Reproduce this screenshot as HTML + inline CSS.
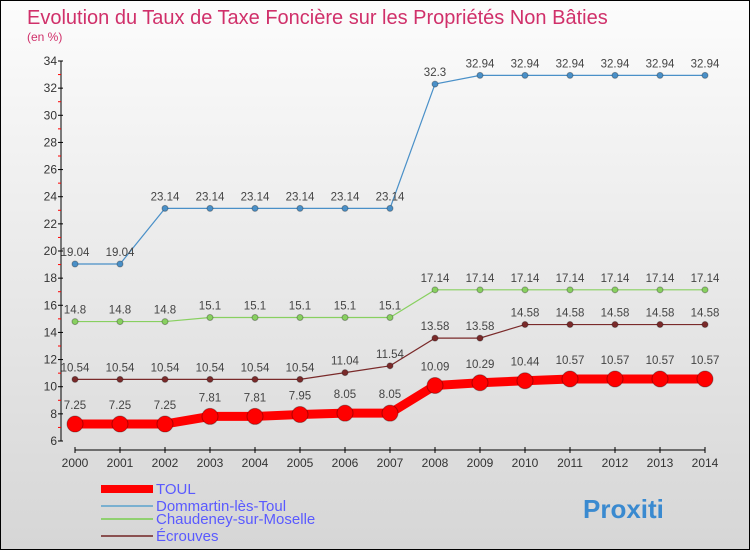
<!DOCTYPE html>
<html><head><meta charset="utf-8"><style>
body{margin:0;width:750px;height:550px;overflow:hidden;font-family:"Liberation Sans",sans-serif}
#wrap{position:relative;width:748px;height:548px;border:1px solid #000;background:linear-gradient(#fcfcfc,#d6d6d6)}
</style></head><body>
<div id="wrap">
<svg id="c" width="748" height="548"></svg>
</div>
<script>
const years=[2000,2001,2002,2003,2004,2005,2006,2007,2008,2009,2010,2011,2012,2013,2014];
const toul=[7.25,7.25,7.25,7.81,7.81,7.95,8.05,8.05,10.09,10.29,10.44,10.57,10.57,10.57,10.57];
const domm=[19.04,19.04,23.14,23.14,23.14,23.14,23.14,23.14,32.3,32.94,32.94,32.94,32.94,32.94,32.94];
const chau=[14.8,14.8,14.8,15.1,15.1,15.1,15.1,15.1,17.14,17.14,17.14,17.14,17.14,17.14,17.14];
const ecro=[10.54,10.54,10.54,10.54,10.54,10.54,11.04,11.54,13.58,13.58,14.58,14.58,14.58,14.58,14.58];
const yTicks=[6,8,10,12,14,16,18,20,22,24,26,28,30,32,34];
const svg=document.getElementById('c');const NS='http://www.w3.org/2000/svg';
function X(i){return 74+i*45;}
function Y(v){return 440-(v-6)*(380/28);}
function mk(t,a,p){const e=document.createElementNS(NS,t);for(const k in a)e.setAttribute(k,a[k]);(p||svg).appendChild(e);return e;}
let t=mk('text',{x:26,y:23,'font-size':20,fill:'#d0306a'});t.textContent='Evolution du Taux de Taxe Foncière sur les Propriétés Non Bâties';

t=mk('text',{x:26,y:40,'font-size':12,fill:'#d0306a'});t.textContent='(en %)';

let a=mk('line',{x1:60,y1:Y(34),x2:60,y2:Y(6),stroke:'#000'});

yTicks.forEach(v=>{mk('line',{x1:57,x2:62,y1:Y(v),y2:Y(v),stroke:'#000'});
 if(v<34)mk('line',{x1:57,x2:60,y1:Y(v+1),y2:Y(v+1),stroke:'#f00'});
 const l=mk('text',{x:56,y:Y(v)+4,'font-size':12,fill:'#333','text-anchor':'end'});l.textContent=v;
 });
a=mk('line',{x1:X(0),y1:449,x2:X(14),y2:449,stroke:'#000'});

years.forEach((y,i)=>{mk('line',{x1:X(i),x2:X(i),y1:446,y2:452,stroke:'#000'});
 const l=mk('text',{x:X(i),y:466,'font-size':12,fill:'#333','text-anchor':'middle'});l.textContent=y;
 });
function series(d,col,w,r,name,off){
 const g=mk('g',{});
 mk('polyline',{points:d.map((v,i)=>X(i)+','+Y(v)).join(' '),fill:'none',stroke:col,'stroke-width':w},g);
 d.forEach((v,i)=>{const c=mk('circle',{cx:X(i),cy:Y(v),r:r,fill:col,stroke:'rgba(0,0,0,0.3)'},g);
  
  const l=mk('text',{x:X(i),y:Y(v)-off,'font-size':11.5,fill:'#444','text-anchor':'middle'},g);l.textContent=String(v);
  });
}
series(domm,'#4a90c8',1.2,3,'dommartin',8);
series(chau,'#88d060',1.2,3,'chaudeney',8);
series(ecro,'#7a2a2a',1.2,3,'ecrouves',8);
series(toul,'#f00',9,8,'toul',15);
const leg=[['TOUL','#f00',8],['Dommartin-lès-Toul','#7ab0d0',2],['Chaudeney-sur-Moselle','#90d070',2],['Écrouves','#8a5050',2]];
const ly=[493,510,523,540];
leg.forEach((e,i)=>{const g=mk('g',{});
 mk('line',{x1:100,x2:152,y1:ly[i]-5,y2:ly[i]-5,stroke:e[1],'stroke-width':e[2]},g);
 const l=mk('text',{x:155,y:ly[i],'font-size':15,fill:'#5a5aff'},g);l.textContent=e[0];});
t=mk('text',{x:582,y:517,'font-size':26,'font-weight':'bold',fill:'#3a8ad0'});t.textContent='Proxiti';

</script>
</body></html>
